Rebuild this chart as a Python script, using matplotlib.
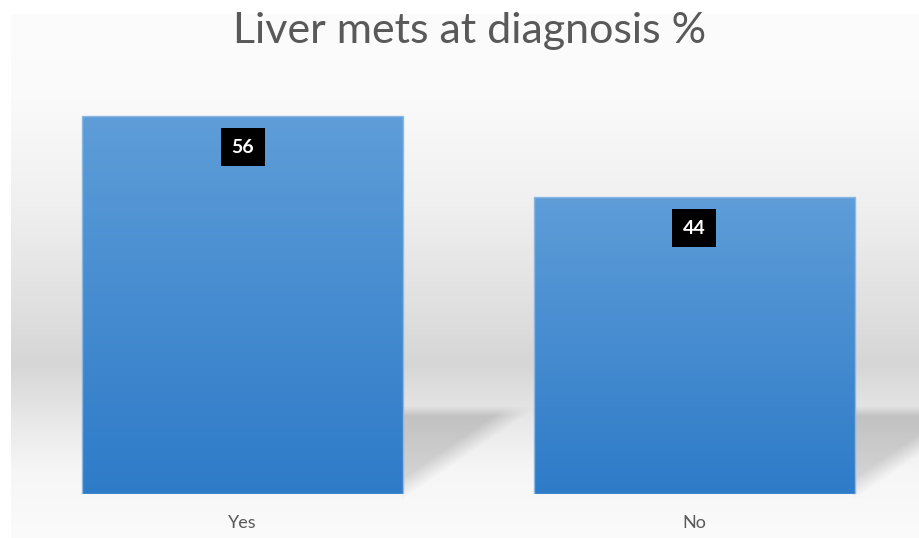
import numpy as np
import matplotlib
matplotlib.use('Agg')
import matplotlib.pyplot as plt
from matplotlib.colors import LinearSegmentedColormap

# data
categories = ['Yes', 'No']
values = [56, 44]
labels = ['56', '44']
title = 'Liver mets at diagnosis %'

plt.rcParams['font.family'] = ['Lato', 'DejaVu Sans']

W, H = 920, 538
fig = plt.figure(figsize=(W / 100, H / 100), dpi=100)

# background panel (wall/floor gradient), drawn behind the chart
bg_ax = fig.add_axes([0, 0, 1, 1], zorder=-10)
bg_ax.axis('off')

ax = fig.add_axes([17 / W, 44 / H, 903 / W, 405 / H])
ax.patch.set_alpha(0)
x = np.arange(len(categories))
bars = ax.bar(x, values, width=0.712, color='none', edgecolor='#8cb8e4',
              linewidth=1, zorder=3)

# vertical gradient fill inside each bar
cmap = LinearSegmentedColormap.from_list('bar', ['#2e7bc8', '#5e9dd8'])
grad = np.linspace(0, 1, 256).reshape(-1, 1)
for b in bars:
    x0, w, h = b.get_x(), b.get_width(), b.get_height()
    im = ax.imshow(grad, extent=[x0, x0 + w, 0, h], origin='lower',
                   aspect='auto', cmap=cmap, zorder=2)
    im.set_clip_path(b)

ax.set_xlim(-0.5, 1.5)
ax.set_ylim(0, 60)

for xi, v, lab in zip(x, values, labels):
    ax.text(xi, v - 4.6, lab, ha='center', va='center', color='white',
            fontsize=14, fontweight='bold', zorder=5,
            bbox=dict(boxstyle='square,pad=0.55', fc='black', ec='none'))

ax.set_xticks(x, categories)
ax.tick_params(axis='x', length=0, pad=15, labelsize=13, labelcolor='#595959')
ax.set_yticks([])
for s in ax.spines.values():
    s.set_visible(False)

fig.text(469.5 / W, 1 - 31 / H, title, ha='center', va='center',
         fontsize=31, color='#595959')

# build background image with floor shadows behind bars
fig.canvas.draw()
rows = np.arange(H)
stops_y = [14, 100, 200, 300, 363, 420, 470, 538]
stops_g = [252, 250, 240, 225, 214, 232, 246, 251]
col = np.interp(rows, stops_y, stops_g) / 255.0
img = np.repeat(col[:, None], W, axis=1)
img[:14, :] = 1.0
img[:, :11] = 1.0

yy, xx = np.mgrid[0:H, 0:W] + 0.5
for b in bars:
    bb = b.get_window_extent()
    xr = bb.x1
    yb = H - bb.y0
    yt = yb - 88
    L = 128.0
    slope = (yb - yt) / L
    yd = yb - (xx - xr) * slope
    d_diag = (yd - yy) / np.sqrt(1 + slope ** 2)
    a_diag = np.clip(d_diag / 18 + 0.25, 0, 1)
    a_top = np.clip((yy - yt) / 10, 0, 1)
    a_left = (xx > xr - 2).astype(float)
    t = np.clip((yy - yt) / (yb - yt), 0, 1)
    a = a_diag * a_top * a_left * (0.8 - 0.3 * t)
    img = img * (1 - a) + 0.72 * a

bg_ax.imshow(np.dstack([img] * 3), extent=[0, W, H, 0], aspect='auto')
bg_ax.set_xlim(0, W)
bg_ax.set_ylim(H, 0)

fig.savefig('out.png', dpi=100)
